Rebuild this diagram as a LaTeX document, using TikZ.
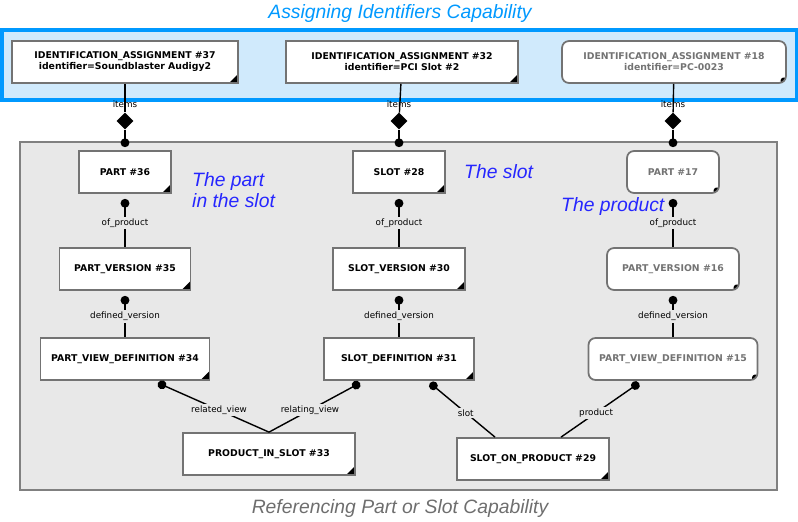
\documentclass[tikz,border=0pt]{standalone}
\usepackage{fontspec}
\setmainfont{DejaVu Sans}
\newfontfamily\titlefont{Liberation Sans}
\usetikzlibrary{positioning,arrows.meta,shapes.geometric}

\definecolor{capblue}{RGB}{208,234,252}
\definecolor{capedge}{RGB}{0,153,255}
\definecolor{areagray}{RGB}{232,232,232}
\definecolor{notegray}{RGB}{110,110,110}

\tikzset{
  wd/.style={minimum width=#1*0.02cm},
  ent/.style={draw=gray!90!black, line width=1pt, fill=white, font=\fontsize{5.3}{6.3}\selectfont\bfseries,
    align=center, minimum height=0.84cm, inner sep=1pt,
    path picture={\fill[black] ([xshift=-0.18cm]path picture bounding box.south east)
      -- (path picture bounding box.south east) -- ([yshift=0.18cm]path picture bounding box.south east) -- cycle;}},
  ext/.style={ent, rounded corners=4pt, text=gray!90!black},
  role/.style={font=\fontsize{5}{6}\selectfont, fill=none, inner sep=1pt},
  note/.style={font=\titlefont\itshape\fontsize{11}{12}\selectfont, text=blue!85!white, align=left, anchor=west},
  link/.style={line width=0.8pt},
  hold/.style={diamond, fill=black, inner sep=0pt, minimum size=0.34cm},
}

\begin{document}
\begin{tikzpicture}[x=0.02cm, y=-0.02cm]
\useasboundingbox (0,0) rectangle (798,521);

% capability frames
\draw[capedge, fill=capblue, line width=2pt] (2,30) rectangle (797,100);
\draw[gray, fill=areagray, line width=1.5pt] (20,142) rectangle (777,490);
\node[note, anchor=center, text=capedge] (captop) at (400,14) {Assigning Identifiers Capability};
\node[note, anchor=center, text=notegray] (capbot) at (400,508) {Referencing Part or Slot Capability};

% identification assignments
\node[ent, wd=226] (ia37) at (125,62) {IDENTIFICATION\_ASSIGNMENT \#37\\identifier=Soundblaster Audigy2};
\node[ent, wd=232] (ia32) at (402,62) {IDENTIFICATION\_ASSIGNMENT \#32\\identifier=PCI Slot \#2};
\node[ext, wd=224] (ia18) at (674,62) {IDENTIFICATION\_ASSIGNMENT \#18\\identifier=PC-0023};

% part in the slot
\node[ent, wd=92] (part36) at (125,172) {PART \#36};
\node[ent, wd=131] (pv35) at (125,269) {PART\_VERSION \#35};
\node[ent, wd=169] (pvd34) at (125,359) {PART\_VIEW\_DEFINITION \#34};

% slot
\node[ent, wd=92] (slot28) at (399,172) {SLOT \#28};
\node[ent, wd=132] (sv30) at (399,269) {SLOT\_VERSION \#30};
\node[ent, wd=150] (sd31) at (399,359) {SLOT\_DEFINITION \#31};

% product
\node[ext, wd=92] (part17) at (673,172) {PART \#17};
\node[ext, wd=132] (pv16) at (673,269) {PART\_VERSION \#16};
\node[ext, wd=169] (pvd15) at (673,359) {PART\_VIEW\_DEFINITION \#15};

% usages
\node[ent, wd=172] (pis33) at (269,454) {PRODUCT\_IN\_SLOT \#33};
\node[ent, wd=152] (sop29) at (533,459) {SLOT\_ON\_PRODUCT \#29};

\node[note] (n1) at (186,190) {The part\\in the slot};
\node[note] (n2) at (458,172) {The slot};
\node[note] (n3) at (555,206) {The product};

% items
\foreach \ia/\obj/\x in {ia37/part36/125, ia32/slot28/399, ia18/part17/673} {
  \node[hold] (d\ia) at (\x,121) {};
  \node[role] (l\ia) at (\x,104) {items};
  \draw[link] (\ia) -- (d\ia);
  \draw[link, -{Circle[length=5pt]}] (d\ia) -- ([yshift=0.06cm]\obj.north);
}

% of_product and defined_version
\foreach \a/\b/\c in {part36/pv35/pvd34, slot28/sv30/sd31, part17/pv16/pvd15} {
  \draw[link, {Circle[length=5pt]}-] ([yshift=-0.1cm]\a.south) -- node[role, fill=areagray] {of\_product} (\b);
  \draw[link, {Circle[length=5pt]}-] ([yshift=-0.1cm]\b.south) -- node[role, fill=areagray] {defined\_version} (\c);
}

% relationships
\coordinate (r1) at (158,383);
\coordinate (r2) at (360,383);
\coordinate (r3) at (430,383);
\coordinate (r4) at (639,383);
\draw[link, {Circle[length=5pt]}-] (r1) -- node[role, fill=areagray, pos=0.55] {related\_view} (pis33.north);
\draw[link, {Circle[length=5pt]}-] (r2) -- node[role, fill=areagray, pos=0.55] {relating\_view} (pis33.north);
\draw[link, {Circle[length=5pt]}-] (r3) -- node[role, fill=areagray, pos=0.55] {slot} ([xshift=-0.76cm]sop29.north);
\draw[link, {Circle[length=5pt]}-] (r4) -- node[role, fill=areagray, pos=0.55] {product} ([xshift=0.56cm]sop29.north);
\end{tikzpicture}
\end{document}
